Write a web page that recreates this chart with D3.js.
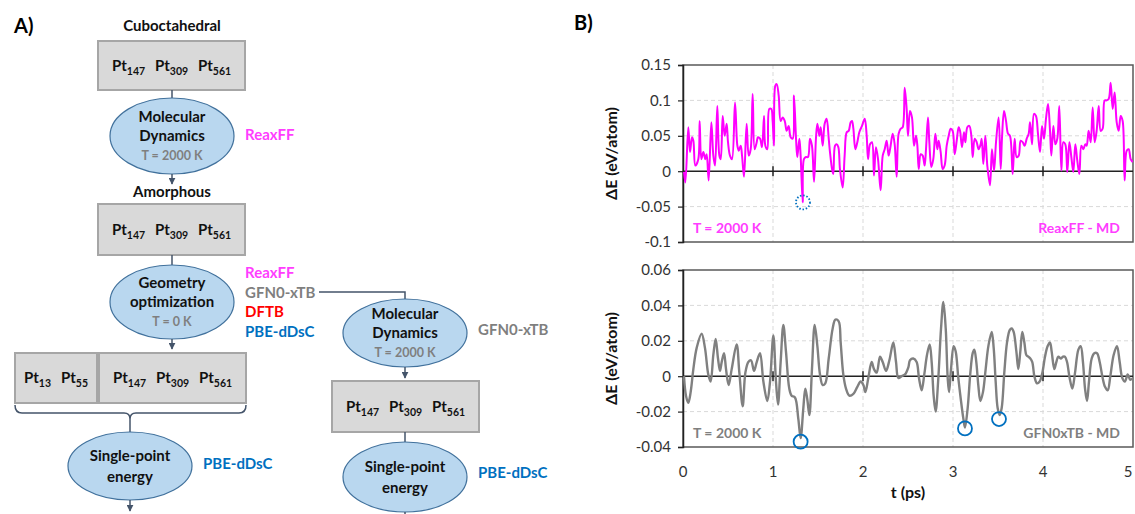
<!DOCTYPE html>
<html>
<head>
<meta charset="utf-8">
<script src="https://cdn.jsdelivr.net/npm/d3@7"></script>
<style>
  html, body { margin: 0; padding: 0; background: #fff; }
  svg { display: block; font-family: Lato, "Open Sans", sans-serif; }
</style>
</head>
<body>
<svg id="fig" width="1135" height="514"></svg>
<script>
// ---------- data ----------
// ReaxFF molecular dynamics, ΔE (eV/atom) vs t (ps)
const reaxffSeries = [
  [0.011,-0.001],[0.026,-0.016],[0.059,0.062],[0.078,0.027],[0.100,0.048],[0.115,0.043],[0.137,0.008],[0.170,0.017],[0.185,0.071],[0.204,0.017],
  [0.226,0.027],[0.248,0.017],[0.263,0.024],[0.285,-0.013],[0.315,0.069],[0.337,0.022],[0.356,0.008],[0.381,0.092],[0.404,0.022],[0.419,0.017],
  [0.441,0.078],[0.463,0.050],[0.485,0.067],[0.500,0.041],[0.522,0.022],[0.544,0.017],[0.578,0.097],[0.604,0.036],[0.619,0.029],[0.641,0.036],
  [0.656,0.022],[0.678,-0.008],[0.707,0.067],[0.730,0.022],[0.752,0.031],[0.774,0.109],[0.796,0.031],[0.819,0.041],[0.833,0.048],[0.856,0.046],
  [0.878,0.034],[0.900,0.078],[0.915,0.036],[0.937,0.031],[0.959,0.088],[0.981,0.088],[0.996,0.071],[1.011,0.036],[1.026,0.121],[1.041,0.123],
  [1.063,0.107],[1.085,0.071],[1.107,0.076],[1.130,0.071],[1.152,0.057],[1.174,0.064],[1.196,0.048],[1.219,0.046],[1.233,0.107],[1.256,0.046],
  [1.270,0.020],[1.293,0.046],[1.307,0.022],[1.330,-0.044],[1.344,0.017],[1.367,0.020],[1.389,0.020],[1.411,0.046],[1.433,0.036],[1.456,-0.015],
  [1.478,0.048],[1.493,0.067],[1.515,0.050],[1.530,0.062],[1.552,0.036],[1.574,0.067],[1.596,0.074],[1.619,0.046],[1.633,0.027],[1.656,0.003],
  [1.670,-0.004],[1.689,0.036],[1.707,0.038],[1.726,0.034],[1.744,0.003],[1.774,-0.023],[1.796,0.022],[1.819,0.055],[1.841,0.057],[1.863,0.069],
  [1.878,0.071],[1.893,0.060],[1.915,0.031],[1.937,0.041],[1.959,0.055],[1.989,0.064],[2.019,0.074],[2.041,0.050],[2.056,0.017],[2.078,0.038],
  [2.100,0.041],[2.122,-0.006],[2.144,0.034],[2.167,0.017],[2.196,-0.027],[2.219,0.022],[2.241,0.031],[2.263,0.043],[2.285,0.022],[2.307,0.036],
  [2.330,0.053],[2.352,0.038],[2.374,-0.008],[2.396,0.053],[2.419,0.060],[2.441,0.062],[2.463,0.118],[2.485,0.088],[2.500,0.050],[2.522,0.085],
  [2.544,0.076],[2.567,0.036],[2.589,0.050],[2.604,0.036],[2.619,0.003],[2.641,0.024],[2.663,0.022],[2.685,0.008],[2.700,0.031],[2.722,0.076],
  [2.737,0.041],[2.759,0.006],[2.781,0.017],[2.804,0.053],[2.826,0.031],[2.841,0.043],[2.863,0.027],[2.885,0.003],[2.907,0.008],[2.930,0.036],
  [2.952,0.050],[2.974,0.060],[2.996,0.057],[3.019,0.024],[3.041,0.043],[3.063,0.062],[3.078,0.057],[3.100,0.034],[3.122,0.055],[3.137,0.041],
  [3.159,0.062],[3.181,0.064],[3.204,0.050],[3.219,0.020],[3.241,0.046],[3.263,0.041],[3.285,0.031],[3.307,0.038],[3.319,0.046],[3.337,0.010],
  [3.359,0.050],[3.381,0.008],[3.411,-0.020],[3.433,0.031],[3.456,0.001],[3.478,0.041],[3.507,0.076],[3.530,0.003],[3.544,0.046],[3.567,0.085],
  [3.589,0.071],[3.611,0.053],[3.633,0.050],[3.663,-0.004],[3.685,0.046],[3.707,0.020],[3.730,0.022],[3.752,0.043],[3.774,0.041],[3.796,0.036],
  [3.819,0.046],[3.841,0.053],[3.856,0.069],[3.878,0.038],[3.900,0.081],[3.922,0.078],[3.944,0.053],[3.967,0.027],[3.989,0.064],[4.011,0.046],
  [4.033,0.074],[4.056,0.095],[4.078,0.057],[4.093,0.022],[4.115,0.064],[4.137,0.038],[4.159,0.046],[4.181,0.092],[4.204,0.001],[4.226,0.041],
  [4.248,0.038],[4.270,-0.001],[4.293,0.041],[4.315,0.020],[4.337,-0.001],[4.359,0.038],[4.381,0.015],[4.404,-0.004],[4.426,0.036],[4.448,0.031],
  [4.470,0.038],[4.485,0.036],[4.507,0.057],[4.530,0.041],[4.552,0.090],[4.574,0.041],[4.596,0.057],[4.619,0.092],[4.641,0.057],[4.663,0.060],
  [4.685,0.100],[4.707,0.100],[4.730,0.102],[4.752,0.125],[4.774,0.088],[4.796,0.111],[4.819,0.069],[4.841,0.057],[4.863,0.078],[4.885,0.071],
  [4.907,-0.013],[4.930,0.029],[4.952,0.031],[4.974,0.017],[4.996,0.013]
];

// GFN0-xTB molecular dynamics, ΔE (eV/atom) vs t (ps)
const gfnSeries = [
  [0.011,0.000],[0.033,-0.011],[0.059,-0.015],[0.085,-0.009],[0.115,0.004],[0.152,0.016],[0.207,0.024],[0.244,0.016],[0.281,0.001],[0.307,-0.003],
  [0.337,0.012],[0.363,0.021],[0.389,0.010],[0.411,0.003],[0.430,0.008],[0.456,0.013],[0.478,0.004],[0.507,-0.005],[0.541,0.004],[0.596,0.018],
  [0.626,0.002],[0.663,-0.017],[0.693,0.002],[0.726,0.008],[0.756,0.009],[0.789,0.003],[0.819,0.008],[0.856,0.013],[0.893,-0.003],[0.937,-0.014],
  [0.967,-0.003],[1.004,0.023],[1.033,-0.003],[1.056,-0.016],[1.085,0.008],[1.115,0.029],[1.144,0.014],[1.181,-0.007],[1.207,-0.011],[1.244,-0.012],
  [1.281,-0.024],[1.307,-0.035],[1.337,-0.018],[1.359,-0.007],[1.381,-0.013],[1.404,-0.022],[1.433,0.004],[1.463,0.029],[1.493,0.017],[1.522,0.001],
  [1.552,-0.005],[1.581,-0.004],[1.619,0.010],[1.663,0.027],[1.693,0.032],[1.730,0.031],[1.752,0.019],[1.781,0.001],[1.811,-0.007],[1.848,-0.011],
  [1.893,-0.010],[1.937,-0.006],[1.974,-0.003],[2.004,-0.005],[2.026,-0.009],[2.059,-0.001],[2.096,0.008],[2.122,0.004],[2.152,0.002],[2.189,0.011],
  [2.219,0.008],[2.256,0.003],[2.293,0.009],[2.337,0.019],[2.367,0.008],[2.393,-0.001],[2.430,0.000],[2.467,0.001],[2.504,0.005],[2.522,0.009],
  [2.559,0.010],[2.596,0.008],[2.622,-0.001],[2.652,-0.008],[2.681,0.001],[2.711,0.012],[2.741,0.018],[2.763,0.008],[2.785,-0.011],[2.807,-0.020],
  [2.837,-0.001],[2.867,0.027],[2.893,0.042],[2.919,0.027],[2.941,-0.001],[2.956,-0.009],[2.978,0.004],[3.007,0.017],[3.030,0.014],[3.059,-0.001],
  [3.089,-0.014],[3.115,-0.024],[3.133,-0.029],[3.163,-0.018],[3.193,0.002],[3.219,0.013],[3.237,0.015],[3.259,0.008],[3.281,-0.005],[3.304,-0.014],
  [3.333,-0.009],[3.363,0.004],[3.393,0.017],[3.430,0.025],[3.452,0.016],[3.474,-0.003],[3.496,-0.018],[3.519,-0.022],[3.541,-0.018],[3.570,0.002],
  [3.600,0.019],[3.630,0.026],[3.652,0.027],[3.674,0.025],[3.704,0.014],[3.726,0.004],[3.748,0.014],[3.770,0.025],[3.793,0.019],[3.815,0.012],
  [3.837,0.011],[3.859,0.010],[3.881,0.008],[3.904,0.000],[3.933,-0.004],[3.963,-0.003],[3.993,0.002],[4.022,0.011],[4.052,0.017],[4.078,0.019],
  [4.096,0.014],[4.126,0.004],[4.148,0.008],[4.170,0.011],[4.200,0.010],[4.222,0.011],[4.244,0.011],[4.267,0.008],[4.296,-0.001],[4.326,-0.007],
  [4.356,0.002],[4.393,0.015],[4.419,0.017],[4.444,0.008],[4.467,-0.007],[4.489,-0.014],[4.511,-0.003],[4.541,0.010],[4.570,0.013],[4.600,0.013],
  [4.630,0.008],[4.659,0.000],[4.689,-0.006],[4.719,-0.008],[4.748,0.000],[4.785,0.012],[4.822,0.017],[4.852,0.008],[4.881,-0.001],[4.911,-0.003],
  [4.941,0.001],[4.970,-0.002],[5.000,-0.001]
];

// highlighted minima [t, ΔE]
const reaxffMarked = [[1.333, -0.044]];
const gfnMarked = [[1.307, -0.037], [3.133, -0.0295], [3.511, -0.0242]];

// axis ticks and labels
const timeTicks = [0, 1, 2, 3, 4, 5];
const reaxffTicks = [-0.1, -0.05, 0, 0.05, 0.1, 0.15];
const reaxffTickLabels = ["-0.1", "-0.05", "0", "0.05", "0.1", "0.15"];
const gfnTicks = [-0.04, -0.02, 0, 0.02, 0.04, 0.06];
const gfnTickLabels = ["-0.04", "-0.02", "0", "0.02", "0.04", "0.06"];

// workflow text
const clusterSizes = ["147", "309", "561"];
const smallClusterSizes = ["13", "55"];

// ---------- drawing ----------
const svg = d3.select("#fig");
const MAGENTA = "#ff00ff", MAGENTA_TXT = "#ff3dff", GRAY = "#808080", GRAY_TXT = "#7f7f7f",
      RED = "#ff0000", BLUE = "#0070c0", DARK = "#44546a",
      BOX_FILL = "#d9d9d9", BOX_STROKE = "#a6a6a6", ELL_FILL = "#b9d7ef", ELL_STROKE = "#41719c";

svg.append("rect").attr("width", 1135).attr("height", 514).attr("fill", "#fff");

// panel letters
svg.append("text").attr("x", 14).attr("y", 33).attr("font-size", 20).attr("font-weight", 700).text("A)");
svg.append("text").attr("x", 574).attr("y", 30).attr("font-size", 20).attr("font-weight", 700).text("B)");

// arrowhead marker
svg.append("defs").append("marker")
  .attr("id", "arrow").attr("viewBox", "0 0 10 10").attr("refX", 9).attr("refY", 5)
  .attr("markerWidth", 7).attr("markerHeight", 7).attr("markerUnits", "userSpaceOnUse")
  .attr("orient", "auto")
  .append("path").attr("d", "M0,0 L10,5 L0,10 z").attr("fill", DARK);

// ---- workflow (panel A) ----
const flow = svg.append("g");

function clusterBox(x, y, w, h, sizes, spacing) {
  flow.append("rect").attr("x", x).attr("y", y).attr("width", w).attr("height", h)
    .attr("fill", BOX_FILL).attr("stroke", BOX_STROKE).attr("stroke-width", 2);
  const cx = x + w / 2;
  sizes.forEach((s, i) => {
    const t = flow.append("text")
      .attr("x", cx + (i - (sizes.length - 1) / 2) * spacing)
      .attr("y", y + h / 2 + 5)
      .attr("text-anchor", "middle").attr("font-weight", 700).attr("font-size", 15).attr("fill", "#111");
    t.append("tspan").text("Pt");
    t.append("tspan").attr("dy", 4).attr("font-size", 10.5).text(s);
  });
}

function stepEllipse(cx, cy, rx, ry, lines, sub) {
  flow.append("ellipse").attr("cx", cx).attr("cy", cy).attr("rx", rx).attr("ry", ry)
    .attr("fill", ELL_FILL).attr("stroke", ELL_STROKE).attr("stroke-width", 1.2);
  const rows = sub ? [...lines, sub] : lines;
  const step = sub ? 19.5 : 21;
  rows.forEach((r, i) => {
    flow.append("text")
      .attr("x", cx).attr("y", cy + (i - (rows.length - 1) / 2) * step)
      .attr("dy", "0.35em").attr("text-anchor", "middle").attr("font-weight", 700)
      .attr("font-size", sub && i === rows.length - 1 ? 12.5 : 15)
      .attr("fill", sub && i === rows.length - 1 ? GRAY_TXT : "#111")
      .text(r);
  });
}

function label(x, y, txt, color, anchor) {
  flow.append("text").attr("x", x).attr("y", y).attr("dy", "0.35em")
    .attr("text-anchor", anchor || "start").attr("font-weight", 700).attr("font-size", 15)
    .attr("fill", color).text(txt);
}

function link(x1, y1, x2, y2, arrow) {
  const l = flow.append("line").attr("x1", x1).attr("y1", y1).attr("x2", x2).attr("y2", y2)
    .attr("stroke", DARK).attr("stroke-width", 1.5);
  if (arrow) l.attr("marker-end", "url(#arrow)");
}

label(172, 26, "Cuboctahedral", "#111", "middle");
clusterBox(98, 41, 147, 49, clusterSizes, 43);
link(172, 90, 172, 99);
stepEllipse(172, 136, 62, 38, ["Molecular", "Dynamics"], "T = 2000 K");
label(245, 135, "ReaxFF", MAGENTA_TXT);
link(172, 174, 172, 184, true);
label(172, 192, "Amorphous", "#111", "middle");
clusterBox(98, 204, 147, 51, clusterSizes, 43);
link(172, 255, 172, 265);
stepEllipse(172, 302, 62, 37, ["Geometry", "optimization"], "T = 0 K");
label(245, 273, "ReaxFF", MAGENTA_TXT);
label(245, 293, "GFN0-xTB", GRAY_TXT);
label(245, 312, "DFTB", RED);
label(245, 332, "PBE-dDsC", BLUE);
link(172, 339, 172, 349, true);
clusterBox(15, 353, 82, 50, smallClusterSizes, 37);
clusterBox(99, 353, 147, 50, clusterSizes, 43);

// brace under the optimised clusters
flow.append("path")
  .attr("d", "M15,405 Q15,413 22,413 L124,413 Q130,413 130,419 Q130,413 136,413 L239,413 Q246,413 246,405")
  .attr("fill", "none").attr("stroke", DARK).attr("stroke-width", 1.5);
link(130, 419, 130, 432);
stepEllipse(130, 466, 62, 34, ["Single-point", "energy"]);
label(203, 464, "PBE-dDsC", BLUE);
link(130, 500, 130, 511, true);

// GFN0-xTB molecular dynamics branch
flow.append("path").attr("d", "M319,292 L405,292 L405,299")
  .attr("fill", "none").attr("stroke", DARK).attr("stroke-width", 1.5);
stepEllipse(405, 333, 62, 34, ["Molecular", "Dynamics"], "T = 2000 K");
label(478, 330, "GFN0-xTB", GRAY_TXT);
link(405, 367, 405, 378, true);
clusterBox(332, 381, 147, 51, clusterSizes, 43);
link(405, 432, 405, 442);
stepEllipse(405, 477, 62, 35, ["Single-point", "energy"]);
label(478, 473, "PBE-dDsC", BLUE);
link(405, 512, 405, 514);

// ---- time series (panel B) ----
const x = d3.scaleLinear().domain([0, 5]).range([683, 1133]);

function panel(opts) {
  const y = d3.scaleLinear().domain(opts.domain).range([opts.bottom, opts.top]);
  const g = svg.append("g");

  // dashed grid
  g.selectAll("line.hg").data(opts.ticks.filter(v => v !== 0 && v !== opts.domain[0] && v !== opts.domain[1]))
    .join("line").attr("x1", x(0)).attr("x2", x(5)).attr("y1", d => y(d)).attr("y2", d => y(d))
    .attr("stroke", "#d9d9d9").attr("stroke-width", 1).attr("stroke-dasharray", "4,3");
  g.selectAll("line.vg").data(timeTicks.slice(1, -1))
    .join("line").attr("x1", d => x(d)).attr("x2", d => x(d)).attr("y1", opts.top).attr("y2", opts.bottom)
    .attr("stroke", "#d9d9d9").attr("stroke-width", 1).attr("stroke-dasharray", "4,3");

  // frame
  g.append("rect").attr("x", x(0)).attr("y", opts.top).attr("width", x(5) - x(0)).attr("height", opts.bottom - opts.top)
    .attr("fill", "none").attr("stroke", "#595959").attr("stroke-width", 1.5);

  // zero line with time ticks
  g.append("line").attr("x1", x(0)).attr("x2", x(5)).attr("y1", y(0)).attr("y2", y(0))
    .attr("stroke", "#222").attr("stroke-width", 1.5);
  g.selectAll("line.zt").data(timeTicks.slice(1, -1)).join("line")
    .attr("x1", d => x(d)).attr("x2", d => x(d)).attr("y1", y(0) - 5).attr("y2", y(0) + 5)
    .attr("stroke", "#222").attr("stroke-width", 1.5);

  // y axis
  const ax = g.append("g").attr("transform", `translate(${x(0)},0)`)
    .call(d3.axisLeft(y).tickValues(opts.ticks).tickSize(5).tickPadding(7)
      .tickFormat((d, i) => opts.tickLabels[i]));
  ax.select(".domain").attr("stroke", "#222").attr("stroke-width", 1.5);
  ax.selectAll(".tick line").attr("stroke", "#222").attr("stroke-width", 1.2);
  ax.selectAll(".tick text").attr("font-size", 15).attr("fill", "#333").attr("font-family", "Lato, sans-serif");

  svg.append("text")
    .attr("transform", `translate(611,${(opts.top + opts.bottom) / 2}) rotate(-90)`)
    .attr("text-anchor", "middle").attr("dy", "0.35em").attr("font-weight", 700).attr("font-size", 16)
    .attr("fill", "#111").text("ΔE (eV/atom)");

  // series
  const line = d3.line().x(d => x(d[0])).y(d => y(d[1])).curve(d3.curveCatmullRom.alpha(0.5));
  g.append("path").datum(opts.series).attr("d", line)
    .attr("fill", "none").attr("stroke", opts.color).attr("stroke-width", opts.width)
    .attr("stroke-linejoin", "round");

  // marked minima
  g.selectAll("circle.mk").data(opts.marked).join("circle")
    .attr("cx", d => x(d[0])).attr("cy", d => y(d[1])).attr("r", 7)
    .attr("fill", "none").attr("stroke", BLUE).attr("stroke-width", 1.8)
    .attr("stroke-dasharray", opts.dotted ? "1.5,1.8" : null);

  // annotations
  g.append("text").attr("x", 693).attr("y", opts.bottom - 14).attr("dy", "0.35em")
    .attr("font-weight", 700).attr("font-size", 14).attr("fill", opts.textColor).text("T = 2000 K");
  g.append("text").attr("x", 1120).attr("y", opts.bottom - 14).attr("dy", "0.35em").attr("text-anchor", "end")
    .attr("font-weight", 700).attr("font-size", 14).attr("fill", opts.textColor).text(opts.name);
  return y;
}

panel({
  domain: [-0.1, 0.15], top: 65, bottom: 242, ticks: reaxffTicks, tickLabels: reaxffTickLabels,
  series: reaxffSeries, color: MAGENTA, width: 2, marked: reaxffMarked, dotted: true,
  textColor: MAGENTA_TXT, name: "ReaxFF - MD"
});
panel({
  domain: [-0.04, 0.06], top: 270, bottom: 447, ticks: gfnTicks, tickLabels: gfnTickLabels,
  series: gfnSeries, color: GRAY, width: 2.4, marked: gfnMarked, dotted: false,
  textColor: GRAY_TXT, name: "GFN0xTB - MD"
});

// time axis labels (the last one is kept inside the page edge)
svg.append("g").selectAll("text").data(timeTicks).join("text")
  .attr("x", d => Math.min(x(d), 1128)).attr("y", 472).attr("dy", "0.35em").attr("text-anchor", "middle")
  .attr("font-size", 15).attr("fill", "#333").text(d => d);
svg.append("text").attr("x", x(2.5)).attr("y", 492).attr("dy", "0.35em").attr("text-anchor", "middle")
  .attr("font-weight", 700).attr("font-size", 16).attr("fill", "#111").text("t (ps)");
</script>
</body>
</html>
